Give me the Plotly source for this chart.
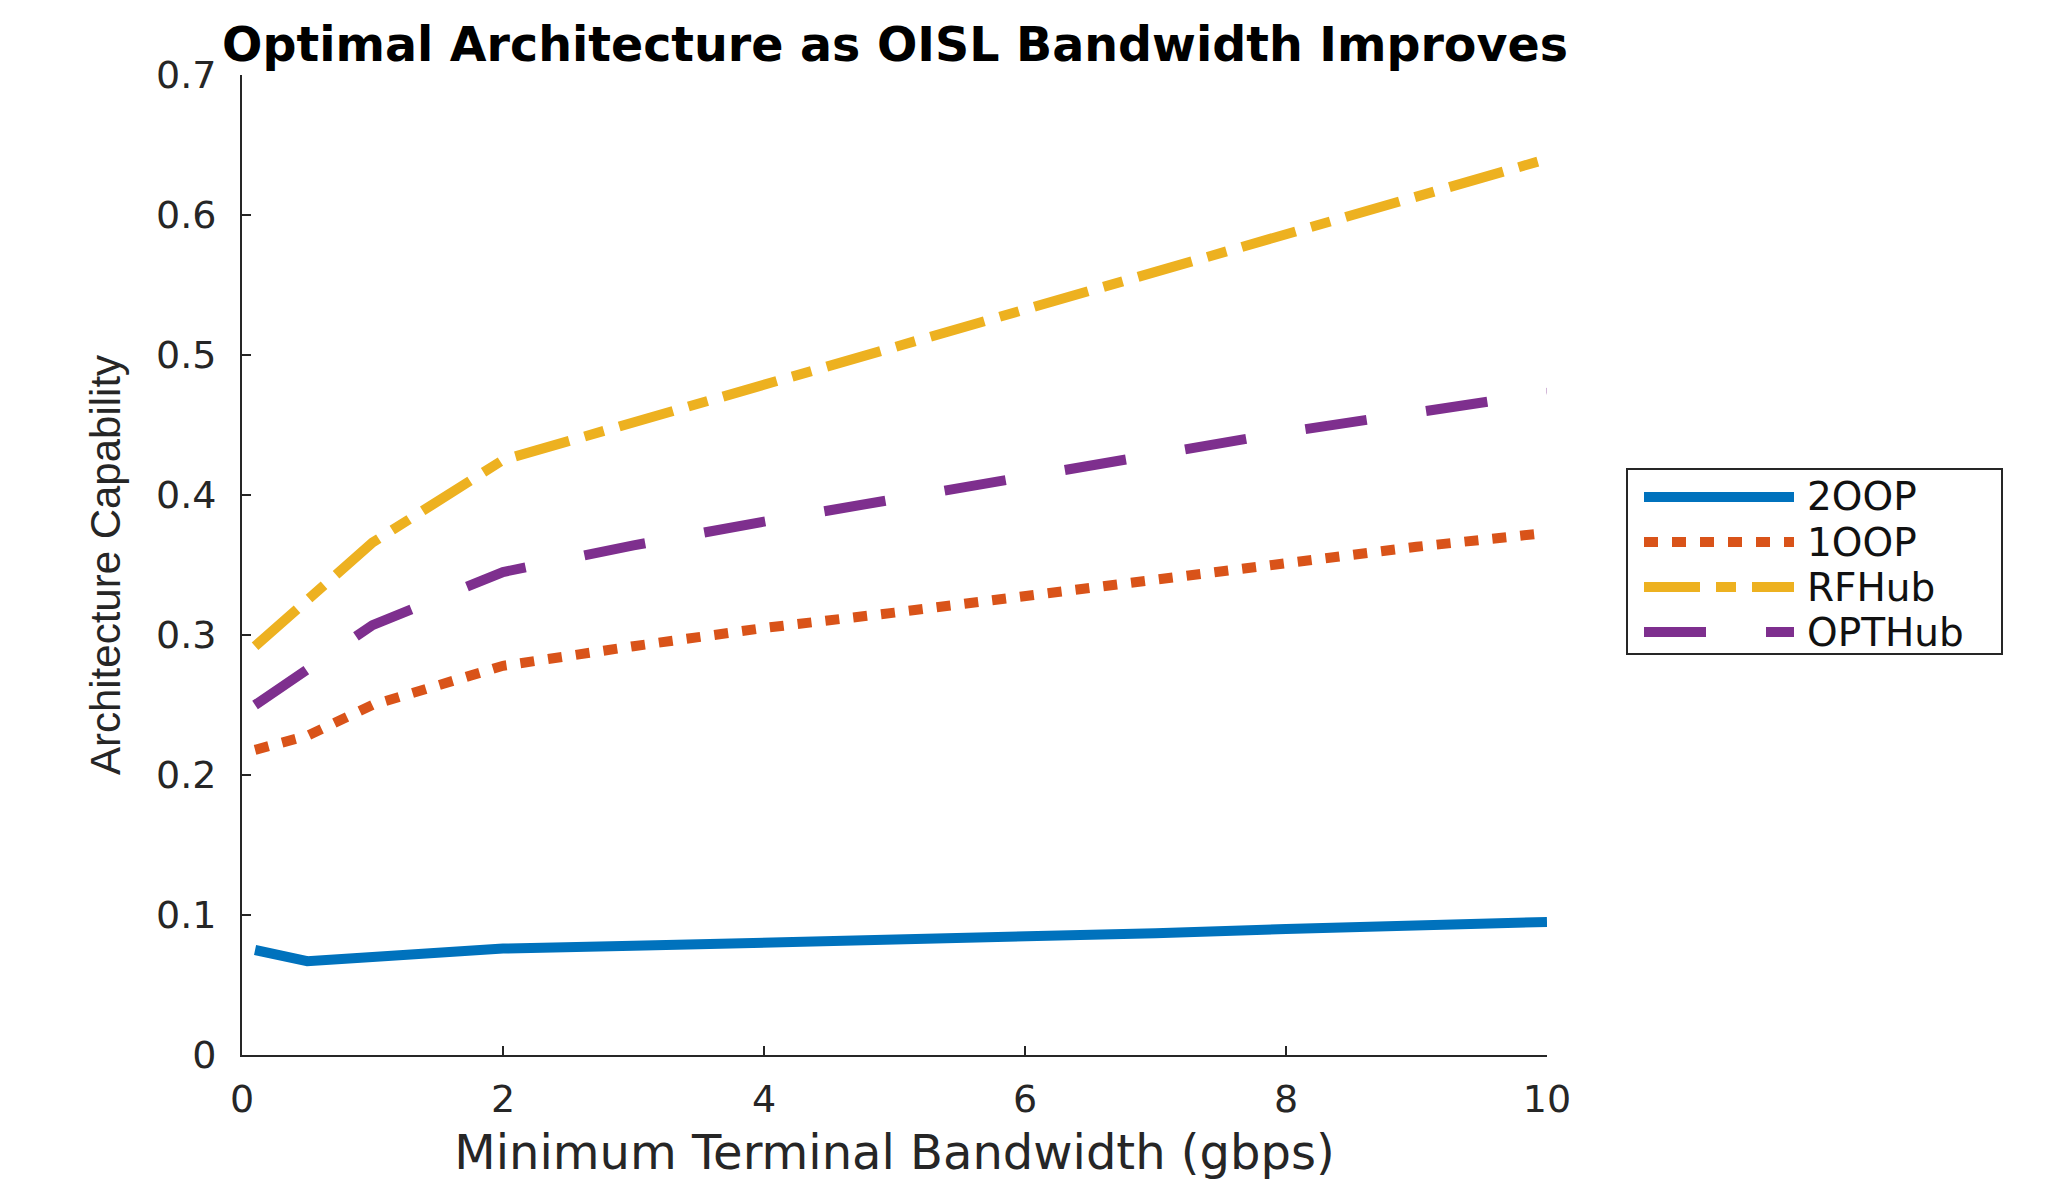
import plotly.graph_objects as go

# Minimum terminal bandwidth (gbps)
bandwidth = [0.1, 0.5, 1, 2, 3, 4, 5, 6, 7, 8, 9, 10]

# Architecture capability per architecture
cap_2oop = [0.075, 0.067, 0.070, 0.076, 0.078, 0.080, 0.083, 0.085, 0.087, 0.090, 0.092, 0.095]
cap_1oop = [0.218, 0.228, 0.250, 0.278, 0.292, 0.305, 0.316, 0.328, 0.340, 0.352, 0.363, 0.373]
cap_rfhub = [0.292, 0.325, 0.366, 0.425, 0.452, 0.479, 0.506, 0.533, 0.560, 0.587, 0.613, 0.640]
cap_opthub = [0.250, 0.275, 0.307, 0.345, 0.364, 0.381, 0.397, 0.413, 0.430, 0.445, 0.459, 0.473]

series_names = ["2OOP", "1OOP", "RFHub", "OPTHub"]
series_values = [cap_2oop, cap_1oop, cap_rfhub, cap_opthub]
series_colors = ["#0072BD", "#D95319", "#EDB120", "#7E2F8E"]
series_dash = ["solid", "14px,14px", "56px,16px,20px,16px", "62px,60px"]

x_ticks = [0, 2, 4, 6, 8, 10]
y_ticks = [0, 0.1, 0.2, 0.3, 0.4, 0.5, 0.6, 0.7]

W, H = 2072, 1184
PL, PR, PT, PB = 242, 1547, 75, 1055
AX = "#262626"
LW = 10


def fx(p):
    return (p - PL) / (PR - PL)


def fy(p):
    return (PB - p) / (PB - PT)


fig = go.Figure()
for name, vals, col, dash in zip(series_names, series_values, series_colors, series_dash):
    fig.add_trace(go.Scatter(
        x=bandwidth, y=vals, mode="lines", name=name,
        line=dict(color=col, width=LW, dash=dash),
        showlegend=False,
    ))

# Boxed legend with long line samples
shapes = [dict(type="rect", xref="paper", yref="paper",
               x0=fx(1627), x1=fx(2002), y0=fy(654), y1=fy(469),
               line=dict(color=AX, width=2), fillcolor="white", layer="below")]
annotations = []
row_y = [497, 542, 587, 632]
for name, col, dash, ry in zip(series_names, series_colors, series_dash, row_y):
    shapes.append(dict(type="line", xref="paper", yref="paper",
                       x0=fx(1644), x1=fx(1794), y0=fy(ry), y1=fy(ry),
                       line=dict(color=col, width=LW, dash=dash)))
    annotations.append(dict(xref="paper", yref="paper", x=fx(1805), y=fy(ry),
                            text=name, showarrow=False, xanchor="left", yanchor="middle",
                            font=dict(family="DejaVu Sans", size=39, color="#111111")))

fig.update_layout(
    width=W, height=H,
    margin=dict(l=PL, r=W - PR, t=PT, b=H - PB, autoexpand=False),
    paper_bgcolor="white", plot_bgcolor="white",
    title=dict(text="<b>Optimal Architecture as OISL Bandwidth Improves</b>",
               x=fx(895), xanchor="center", xref="paper",
               y=1 - 44 / H, yanchor="middle", yref="container",
               font=dict(family="DejaVu Sans", size=47.5, color="#000000")),
    xaxis=dict(range=[0, 10], tickvals=x_ticks, ticktext=[str(v) for v in x_ticks],
               showgrid=False, zeroline=False, showline=True, linecolor=AX, linewidth=2,
               ticks="inside", ticklen=9, tickwidth=2, tickcolor=AX,
               ticklabelstandoff=9,
               tickfont=dict(family="DejaVu Sans", size=38, color=AX),
               title=dict(text="Minimum Terminal Bandwidth (gbps)", standoff=16,
                          font=dict(family="DejaVu Sans", size=48, color=AX)),
               automargin=False),
    yaxis=dict(range=[0, 0.7], tickvals=y_ticks,
               ticktext=["0"] + [f"{v:.1f}" for v in y_ticks[1:]],
               showgrid=False, zeroline=False, showline=True, linecolor=AX, linewidth=2,
               ticks="inside", ticklen=9, tickwidth=2, tickcolor=AX,
               ticklabelstandoff=16,
               tickfont=dict(family="DejaVu Sans", size=38, color=AX),
               title=dict(text="Architecture Capability", standoff=22,
                          font=dict(family="Liberation Sans", size=42, color=AX)),
               automargin=False),
    shapes=shapes,
    annotations=annotations,
)

fig.write_html("out.html")
